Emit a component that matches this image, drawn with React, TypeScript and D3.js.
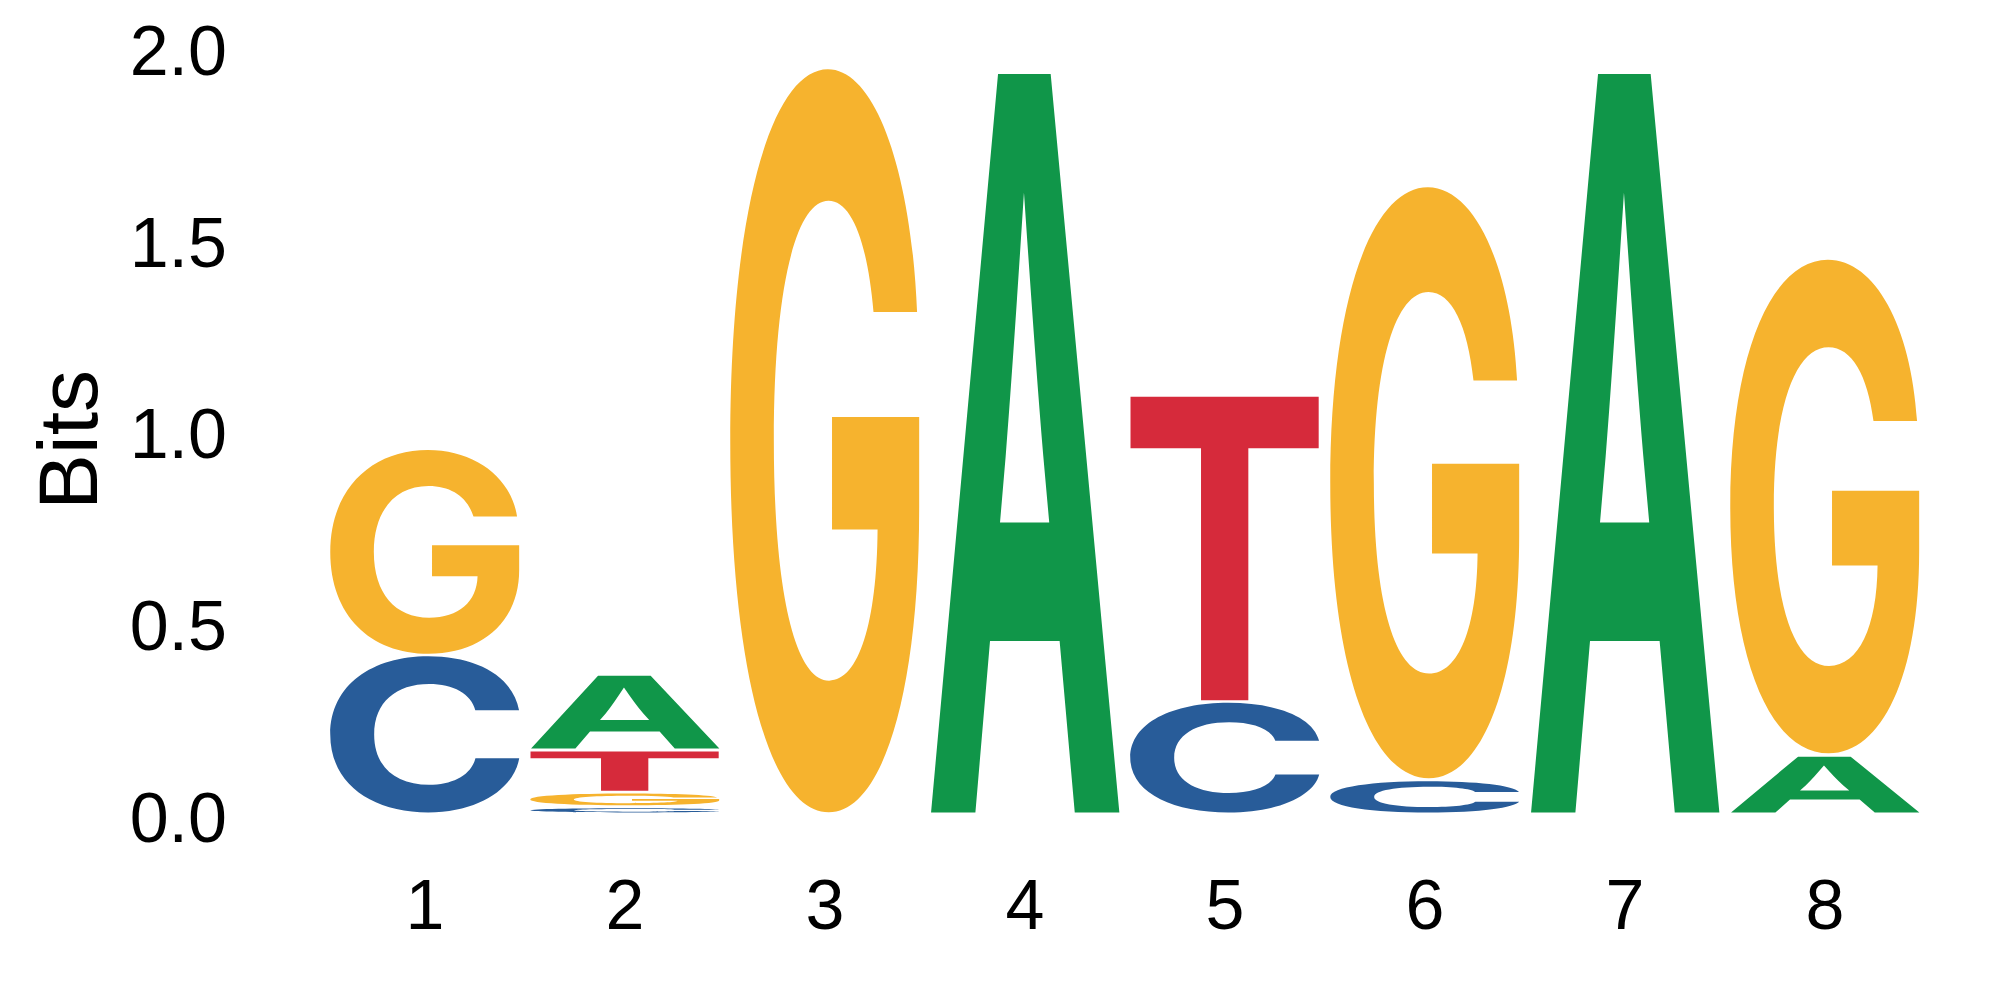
import React from "react";
import * as d3 from "d3";

const positions = [1, 2, 3, 4, 5, 6, 7, 8];
const bitsA = [0, 0.198, 0, 1.941, 0, 0, 1.941, 0.154];
const bitsC = [0.414, 0.019, 0, 0, 0.293, 0.089, 0, 0];
const bitsG = [0.538, 0.038, 1.941, 0, 0, 1.545, 0, 1.292];
const bitsT = [0, 0.11, 0, 0, 0.802, 0, 0, 0];
const yTicks = [0, 0.5, 1, 1.5, 2];
const yTickLabels = ["0.0", "0.5", "1.0", "1.5", "2.0"];
const yTitle = "Bits";

const letterColors: Record<string, string> = {
  A: "#109649",
  C: "#285C99",
  G: "#F6B32E",
  T: "#D62A3B",
};

const LETTER_FONT = "Inter, 'Liberation Sans', Arial, sans-serif";
const LABEL_FONT = "'Liberation Sans', Arial, Helvetica, sans-serif";
const FS = 200;

function measureGlyphs() {
  const canvas = document.createElement("canvas");
  const ctx = canvas.getContext("2d")!;
  ctx.font = `bold ${FS}px ${LETTER_FONT}`;
  const out: Record<string, { L: number; R: number; A: number; D: number }> = {};
  for (const ch of ["A", "C", "G", "T"]) {
    const m = ctx.measureText(ch);
    out[ch] = {
      L: m.actualBoundingBoxLeft,
      R: m.actualBoundingBoxRight,
      A: m.actualBoundingBoxAscent,
      D: m.actualBoundingBoxDescent,
    };
  }
  return out;
}

export default function App() {
  const width = 2000;
  const height = 1000;
  const x = d3
    .scaleBand<number>()
    .domain(positions)
    .range([325, 1925])
    .paddingInner(0.05)
    .paddingOuter(0.025);
  const y = d3.scaleLinear().domain([0, 2]).range([814, 47.4]);
  const glyphs = React.useMemo(measureGlyphs, []);
  const gap = 3;

  const letters: { key: string; ch: string; x0: number; w: number; top: number; bottom: number }[] = [];
  positions.forEach((p, i) => {
    const stack = [
      { ch: "A", v: bitsA[i] },
      { ch: "C", v: bitsC[i] },
      { ch: "G", v: bitsG[i] },
      { ch: "T", v: bitsT[i] },
    ]
      .filter((d) => d.v > 0)
      .sort((a, b) => a.v - b.v);
    let cum = 0;
    stack.forEach((d) => {
      const bottom = y(cum);
      const top = y(cum + d.v);
      cum += d.v;
      letters.push({
        key: `${p}-${d.ch}`,
        ch: d.ch,
        x0: x(p)!,
        w: x.bandwidth(),
        top: top + gap / 2,
        bottom: bottom - gap / 2,
      });
    });
  });

  return (
    <svg
      width={width}
      height={height}
      style={{ position: "absolute", left: 0, top: 0, background: "#fff" }}
    >
      {letters.map((l) => {
        const g = glyphs[l.ch];
        const h = Math.max(l.bottom - l.top, 0.5);
        const sx = l.w / (g.L + g.R);
        const sy = h / (g.A + g.D);
        const tx = l.x0 + g.L * sx;
        const ty = l.bottom - g.D * sy;
        return (
          <text
            key={l.key}
            transform={`translate(${tx},${ty}) scale(${sx},${sy})`}
            fontFamily={LETTER_FONT}
            fontWeight="bold"
            fontSize={FS}
            fill={letterColors[l.ch]}
          >
            {l.ch}
          </text>
        );
      })}
      {yTicks.map((t, i) => (
        <text
          key={`yt-${t}`}
          x={227}
          y={y(t) + 27.7}
          textAnchor="end"
          fontFamily={LABEL_FONT}
          fontSize={70}
          fill="#000"
        >
          {yTickLabels[i]}
        </text>
      ))}
      {positions.map((p) => (
        <text
          key={`xt-${p}`}
          x={x(p)! + x.bandwidth() / 2}
          y={929}
          textAnchor="middle"
          fontFamily={LABEL_FONT}
          fontSize={70}
          fill="#000"
        >
          {p}
        </text>
      ))}
      <text
        transform={`translate(97,440) rotate(-90)`}
        textAnchor="middle"
        fontFamily={LABEL_FONT}
        fontSize={84}
        fill="#000"
      >
        {yTitle}
      </text>
    </svg>
  );
}
